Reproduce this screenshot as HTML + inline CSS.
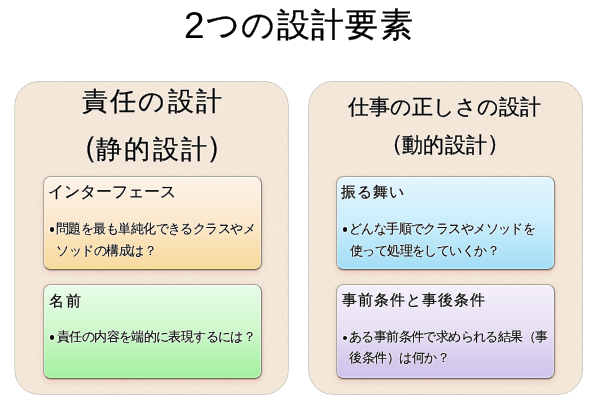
<!DOCTYPE html>
<html lang="ja">
<head>
<meta charset="utf-8">
<style>
html,body{margin:0;padding:0;background:#fff;}
body{width:600px;height:407px;position:relative;overflow:hidden;font-family:"Liberation Sans",sans-serif;color:#000;}
.t{position:absolute;white-space:nowrap;line-height:1;will-change:transform;-webkit-text-stroke:0.12px #000;text-shadow:0 0 1px #fff,0 0 2px #fff,0 0 2px rgba(255,255,255,.8);}
#title{-webkit-text-stroke:0.35px #000;}
#two{-webkit-text-stroke:0.1px #000;}
#OH,#GH,#BH,#PH{-webkit-text-stroke:0.22px #000;}
#L1,#L2,#L2a,#L2b{-webkit-text-stroke:0.3px #000;}
#R1,#R2,#R2a,#R2b{-webkit-text-stroke:0.3px #000;}
.pshadow{filter:drop-shadow(0 0.9px 0.5px rgba(85,85,95,.75));}
.box{position:absolute;width:219px;height:94.6px;border-radius:7.5px;box-sizing:border-box;border:1px solid rgba(125,120,115,.62);border-bottom-color:rgba(85,80,75,.85);border-right-color:rgba(105,100,95,.75);background-clip:padding-box!important;}
.orange{background:linear-gradient(#fcf2e6 0%,#fcefe0 15%,#fbe8cc 50%,#f9dea9 82%,#f8d9a2 100%);box-shadow:0.3px 0.7px 0.6px rgba(60,50,40,.3),0 2.5px 5px rgba(215,130,120,.25),inset 0 1px 0 rgba(255,255,255,.65),inset -1px 0 0 rgba(255,255,255,.45),inset 1px 0 0 rgba(255,255,255,.3),inset 0 -1.3px 0 #fde88c;}
.green{background:linear-gradient(#e8fce8 0%,#e0fbe0 15%,#cdf7ca 50%,#b0f2ac 82%,#a4f0a0 100%);box-shadow:0.3px 0.7px 0.6px rgba(60,50,40,.3),0 2.5px 5px rgba(215,130,120,.25),inset 0 1px 0 rgba(255,255,255,.65),inset -1px 0 0 rgba(255,255,255,.45),inset 1px 0 0 rgba(255,255,255,.3),inset 0 -1.3px 0 rgba(190,250,160,.9);}
.blue{background:linear-gradient(#e2f5fd 0%,#dcf3fd 15%,#caedfb 50%,#b0e3f7 82%,#a4ddf5 100%);box-shadow:0.3px 0.7px 0.6px rgba(60,50,40,.3),0 2.5px 5px rgba(215,130,120,.25),inset 0 1px 0 rgba(255,255,255,.65),inset -1px 0 0 rgba(255,255,255,.45),inset 1px 0 0 rgba(255,255,255,.3),inset 0 -1.3px 0 rgba(180,240,255,.9);}
.purple{background:linear-gradient(#f4f0fa 0%,#f0ebf8 15%,#e6dff4 50%,#d6caec 82%,#d0c2e9 100%);box-shadow:0.3px 0.7px 0.6px rgba(60,50,40,.3),0 2.5px 5px rgba(215,130,120,.25),inset 0 1px 0 rgba(255,255,255,.65),inset -1px 0 0 rgba(255,255,255,.45),inset 1px 0 0 rgba(255,255,255,.3),inset 0 -1.3px 0 rgba(230,220,250,.9);}
.dot{position:absolute;width:4.5px;height:4.5px;border-radius:50%;background:#080808;box-shadow:0 0 1.5px 1px rgba(255,255,255,.8);}
</style>
</head>
<body>
<svg width="600" height="407" style="position:absolute;left:0;top:0">
<defs>
<filter id="nz" x="0" y="0" width="100%" height="100%" color-interpolation-filters="sRGB">
<feTurbulence type="fractalNoise" baseFrequency="0.45" numOctaves="2" seed="7" result="t"/>
<feColorMatrix in="t" type="matrix" values="0 0 0 0 0.93  0 0 0 0 0.83  0 0 0 0 0.82  2.2 0 0 0 -1.05" result="pink"/>
<feColorMatrix in="t" type="matrix" values="0 0 0 0 0.97  0 0 0 0 0.93  0 0 0 0 0.86  0 2.2 0 0 -1.05" result="cream"/>
<feMerge result="m"><feMergeNode in="pink"/><feMergeNode in="cream"/></feMerge>
<feComposite in="m" in2="SourceGraphic" operator="in"/>
</filter>
</defs>
<rect x="14.9" y="81.5" width="273.3" height="312.8" rx="24" fill="#f3e8d9" class="pshadow" stroke="rgba(190,190,175,.45)" stroke-width="0.6"/>
<rect x="308.8" y="81.5" width="273.6" height="312.8" rx="24" fill="#f3e8d9" class="pshadow" stroke="rgba(190,190,175,.45)" stroke-width="0.6"/>
<rect x="15.2" y="81.8" width="272.7" height="312.2" rx="24" fill="#000" filter="url(#nz)" opacity="0.6"/>
<rect x="309.1" y="81.8" width="273" height="312.2" rx="24" fill="#000" filter="url(#nz)" opacity="0.6"/>
</svg>
<div class="box orange" style="left:42.6px;top:175.6px;"></div>
<div class="box green" style="left:42.6px;top:284.1px;height:95.2px;"></div>
<div class="box blue" style="left:336.1px;top:175.6px;"></div>
<div class="box purple" style="left:336.1px;top:284.1px;height:95.2px;"></div>
<div class="dot" style="left:49.85px;top:227.05px;"></div>
<div class="dot" style="left:49.85px;top:335.4px;"></div>
<div class="dot" style="left:342.9px;top:227.05px;"></div>
<div class="dot" style="left:342.8px;top:335.55px;"></div>
<div class="t" id="two" style="left:184.43px;top:6.71px;font-size:37.00px;letter-spacing:0.00px;">2</div>
<div class="t" id="title" style="left:206.17px;top:8.92px;font-size:32.50px;letter-spacing:1.37px;">つの設計要素</div>
<div class="t" id="L1" style="left:82.09px;top:87.58px;font-size:26.30px;letter-spacing:2.17px;">責任の設計</div>
<div class="t" id="L2a" style="left:67.83px;top:132.13px;font-size:30.00px;letter-spacing:0.00px;">（</div>
<div class="t" id="L2" style="left:96.49px;top:136.07px;font-size:26.30px;letter-spacing:2.33px;">静的設計</div>
<div class="t" id="L2b" style="left:205.79px;top:131.92px;font-size:30.00px;letter-spacing:0.00px;">）</div>
<div class="t" id="R1" style="left:347.77px;top:97.01px;font-size:20.50px;letter-spacing:0.06px;">仕事の正しさの設計</div>
<div class="t" id="R2a" style="left:380.03px;top:132.06px;font-size:23.00px;letter-spacing:0.00px;">（</div>
<div class="t" id="R2" style="left:402.45px;top:135.38px;font-size:20.50px;letter-spacing:0.49px;">動的設計</div>
<div class="t" id="R2b" style="left:487.28px;top:131.75px;font-size:23.00px;letter-spacing:0.00px;">）</div>
<div class="t" id="OH" style="left:48.01px;top:184.23px;font-size:15.80px;letter-spacing:0.04px;">インターフェース</div>
<div class="t" id="OB1" style="left:56.34px;top:222.75px;font-size:12.50px;letter-spacing:-0.56px;">問題を最も単純化できるクラスやメ</div>
<div class="t" id="OB2" style="left:56.10px;top:244.58px;font-size:12.50px;letter-spacing:-0.48px;">ソッドの構成は？</div>
<div class="t" id="GH" style="left:49.18px;top:293.08px;font-size:15.20px;letter-spacing:2.39px;">名前</div>
<div class="t" id="GB1" style="left:56.54px;top:331.18px;font-size:12.50px;letter-spacing:-0.62px;">責任の内容を端的に表現するには？</div>
<div class="t" id="BH" style="left:341.45px;top:184.30px;font-size:15.20px;letter-spacing:0.90px;">振る舞い</div>
<div class="t" id="BB1" style="left:348.98px;top:223.01px;font-size:12.50px;letter-spacing:-0.59px;">どんな手順でクラスやメソッドを</div>
<div class="t" id="BB2" style="left:349.52px;top:244.83px;font-size:12.50px;letter-spacing:-0.59px;">使って処理をしていくか？</div>
<div class="t" id="PH" style="left:342.14px;top:292.36px;font-size:15.20px;letter-spacing:0.95px;">事前条件と事後条件</div>
<div class="t" id="PB1" style="left:348.92px;top:331.40px;font-size:12.50px;letter-spacing:-0.60px;">ある事前条件で求められる結果（事</div>
<div class="t" id="PB2" style="left:349.28px;top:352.34px;font-size:12.50px;letter-spacing:-0.50px;">後条件）は何か？</div>
</body>
</html>
